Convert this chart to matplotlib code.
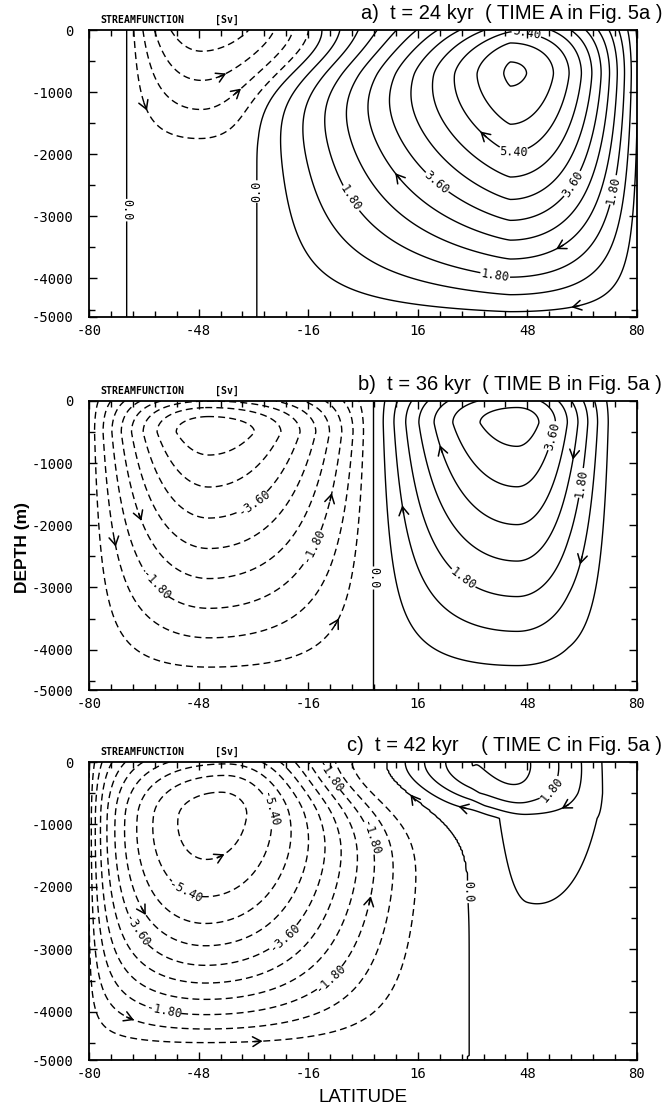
import numpy as np
import matplotlib.pyplot as plt

# --- overturning cells for each panel -------------------------------------
# amp [Sv]; latitude bounds as (surface, deep) pairs; lat shape
# (m_west, p_west, m_east, p_east); depth hump (top, core, bottom) in m with
# shape (m_top, p_top, m_bottom, p_bottom)
amp_a    = [6.7, -2.7, -0.15, 0.3]
west_a   = [(-12, -31), (-69, -69), (-69, -69), (-120, -120)]
core_a   = [(43, 43), (-47, -47), (-50, -50), (-85, -85)]
east_a   = [(82, 82), (-12, -31), (-12, -31), (-69, -69)]
lshape_a = [(1.2, 1.0, 2, 1.0), (2, 0.9, 2, 1.0), (2, 1, 2, 1), (2, 1, 2, 1)]
depth_a  = [(-820, 700, 4800), (-300, 0, 2100), (-6000, 2500, 11000), (-6000, 2500, 11000)]
dshape_a = [(2, 1, 1.4, 1), (2, 1, 1.0, 1), (2, 1, 2, 1), (2, 1, 2, 1)]

amp_b    = [-5.2, 4.5, 0.1]
west_b   = [(-81, -81), (3, 3), (60, 60)]
core_b   = [(-45, -45), (45, 45), (85, 85)]
east_b   = [(3, 3), (76, 76), (110, 110)]
lshape_b = [(2, 1.1, 2, 1.0), (2, 1.0, 2, 1.6), (2, 1, 2, 1)]
depth_b  = [(-400, 500, 4750), (-600, 350, 4800), (-6000, 2500, 11000)]
dshape_b = [(2, 1, 1.05, 1), (2, 1, 1.1, 1), (2, 1, 2, 1)]

amp_c    = [-6.3, 2.3, 0.95, 0.15]
west_c   = [(-80.5, -80.5), (7, 31), (31, 31), (7, 31)]
core_c   = [(-40, -46), (32, 40), (48, 48), (60, 60)]
east_c   = [(7, 31), (70, 70), (88, 88), (100, 100)]
lshape_c = [(2, 0.6, 2, 2.2), (1.2, 1, 1.1, 1), (2, 2, 2, 2), (2, 1, 2, 1)]
depth_c  = [(-830, 850, 4700), (-300, 0, 900), (-2000, 500, 4000), (-6000, 2500, 11000)]
dshape_c = [(2, 1, 1.8, 1), (2, 1, 2, 1), (2, 1, 1, 1), (2, 1, 2, 1)]

tilt_depth = 900.0   # e-folding depth of the shift of the latitude bounds

titles = ["a)  t = 24 kyr  ( TIME A in Fig. 5a )",
          "b)  t = 36 kyr  ( TIME B in Fig. 5a )",
          "c)  t = 42 kyr    ( TIME C in Fig. 5a )"]
bottoms = [-4620, -4650, -4770]

# flow arrows (lat, depth), snapped to the nearest drawn contour
arrows_a = [(-61.6, -1200), (-41.7, -630), (-36.8, -980), (37, -1570),
            (9.9, -2370), (57.5, -3500), (62.5, -4560)]
arrows_b = [(-73.6, -2290), (-65.7, -1870), (-8.8, -1550), (-10.2, -3480),
            (9.9, -1760), (24.8, -740), (59.9, -870), (63.4, -2560)]
arrows_c = [(-39.4, -1760), (-64.2, -2390), (0.6, -2190), (-68.6, -4210),
            (-30.6, -4500), (13, -690), (29.2, -740), (61.3, -900)]

# contour label spots
labels_a = [(-70, -2900), (-31, -2600), (47, -300), (44, -2050), (20.4, -2530),
            (64.2, -2580), (-3, -2690), (38.5, -3980), (73.6, -2580)]
labels_b = [(-34.5, -1430), (-59, -2880), (-18, -2230), (3.8, -2840),
            (56.6, -580), (64, -1320), (33.3, -2560)]
labels_c = [(-25.7, -740), (-53, -2200), (-24, -2730), (-69.5, -2840), (-13, -355),
            (-10, -3440), (-58, -3970), (8, -1110), (29.8, -2080), (58.4, -580)]

xtick_pos = [-80, -48, -16, 16, 48, 80]
ytick_lab = ["0", "-1000", "-2000", "-3000", "-4000", "-5000"]

MONO = "DejaVu Sans Mono"
SANS = "Liberation Sans"


def hump(x, a, c, b, m1, p1, m2, p2):
    x, a, c, b = np.broadcast_arrays(np.asarray(x, float), a, c, b)
    y = np.zeros(x.shape)
    k = (x > a) & (x <= c)
    u = (x[k] - a[k]) / (c[k] - a[k])
    y[k] = (1 - (1 - u) ** m1) ** p1
    k = (x > c) & (x < b)
    u = (b[k] - x[k]) / (b[k] - c[k])
    y[k] = (1 - (1 - u) ** m2) ** p2
    return y


def field(lat, dep, cells):
    # dep is positive downward
    amp, west, core, east, lsh, depth, dsh = cells
    w = np.exp(-(np.clip(dep, 0, None) / tilt_depth) ** 2)
    psi = np.zeros(np.shape(lat))
    for A, wb, cb, eb, ls, (dt, dc, db), ds in zip(amp, west, core, east, lsh, depth, dsh):
        a = wb[1] + (wb[0] - wb[1]) * w
        c = cb[1] + (cb[0] - cb[1]) * w
        b = eb[1] + (eb[0] - eb[1]) * w
        psi = psi + A * hump(lat, a, c, b, *ls) * hump(dep, dt, dc, db, *ds)
    return psi


def fmt(v):
    return "0.0" if abs(v) < 1e-6 else "%.2f" % v


fig = plt.figure(figsize=(6.68, 11.11), dpi=100)
W, H = 668.0, 1111.0
frames = [(30, 317), (401, 690), (762, 1060)]
panels = [((amp_a, west_a, core_a, east_a, lshape_a, depth_a, dshape_a), arrows_a, labels_a),
          ((amp_b, west_b, core_b, east_b, lshape_b, depth_b, dshape_b), arrows_b, labels_b),
          ((amp_c, west_c, core_c, east_c, lshape_c, depth_c, dshape_c), arrows_c, labels_c)]

levels = np.round(np.arange(-6.6, 7.0, 0.6), 2)
label_levels = [-5.4, -3.6, -1.8, 0.0, 1.8, 3.6, 5.4]

for k, (cells, arr, labs) in enumerate(panels):
    top, bot = frames[k]
    ax = fig.add_axes([89 / W, 1 - bot / H, 548 / W, (bot - top) / H])
    ybot = bottoms[k]
    ax.set_xlim(-80, 80)
    ax.set_ylim(ybot, 0)

    lat = np.linspace(-80, 80, 321)
    z = np.linspace(0, ybot, 260)
    LAT, Z = np.meshgrid(lat, z)
    psi = field(LAT, -Z, cells)

    use = [v for v in levels if psi.min() < v < psi.max()]
    lab_lv = [v for v in use if any(abs(v - l) < 1e-6 for l in label_levels)]
    other = [v for v in use if v not in lab_lv]

    sets = []
    for lv in (lab_lv, other):
        st = [(0, (5, 3)) if v < 0 else "solid" for v in lv]
        sets.append(ax.contour(lat, z, psi, levels=lv, colors="k",
                               linewidths=1.0, linestyles=st))

    txt = ax.clabel(sets[0], fmt=fmt, manual=labs, fontsize=8.5,
                    inline=True, inline_spacing=2)
    for t in txt:
        t.set_family(MONO)

    # arrowheads following the flow (higher streamfunction on the right)
    pts = []
    for cs in sets:
        for segs in cs.allsegs:
            for s in segs:
                if len(s) > 3:
                    pts.append(s)
    inv = ax.transData.inverted()
    for (la, de) in arr:
        hp = ax.transData.transform((la, de))
        best = None
        for s in pts:
            sp = ax.transData.transform(s)
            d = np.hypot(sp[:, 0] - hp[0], sp[:, 1] - hp[1])
            i = int(np.argmin(d))
            if best is None or d[i] < best[0]:
                best = (d[i], sp, i)
        _, sp, i = best
        i = min(max(i, 1), len(sp) - 2)
        p = sp[i]
        t = sp[i + 1] - sp[i - 1]
        t = t / np.hypot(*t)
        n = np.array([t[1], -t[0]])
        qr = inv.transform(p + 4 * n)
        ql = inv.transform(p - 4 * n)
        fr = field(np.array([qr[0]]), np.array([-qr[1]]), cells)[0]
        fl = field(np.array([ql[0]]), np.array([-ql[1]]), cells)[0]
        if fr < fl:
            t = -t
        tip = inv.transform(p + 4 * t)
        tail = inv.transform(p - 4 * t)
        ax.annotate("", xy=tip, xytext=tail,
                    arrowprops=dict(arrowstyle="->,head_length=0.6,head_width=0.35",
                                    lw=1.1, color="k", shrinkA=0, shrinkB=0,
                                    mutation_scale=10))

    ax.set_xticks(xtick_pos)
    ax.set_xticklabels([str(v) for v in xtick_pos])
    ax.set_xticks(np.arange(-80, 80.1, 6.4), minor=True)
    ax.set_yticks([0, -1000, -2000, -3000, -4000, ybot])
    ax.set_yticklabels(ytick_lab)
    ax.set_yticks(np.arange(-500, ybot, -500), minor=True)
    ax.tick_params(which="both", direction="in", top=True, right=True, width=1.0)
    ax.tick_params(which="major", length=6)
    ax.tick_params(which="minor", length=4)
    ax.tick_params(axis="y", pad=11)
    ax.tick_params(axis="x", pad=5)
    for lab in ax.get_xticklabels() + ax.get_yticklabels():
        lab.set_family(MONO)
        lab.set_fontsize(10)
    for sp_ in ax.spines.values():
        sp_.set_linewidth(1.3)

    hpx = bot - top
    ax.text(1.046, 1 + 7 / hpx, titles[k], transform=ax.transAxes, ha="right",
            va="bottom", fontsize=14.5, family=SANS)
    ax.text(0.02, 1 + 5 / hpx, "STREAMFUNCTION", transform=ax.transAxes,
            ha="left", va="bottom", fontsize=7.1, family=MONO, weight="bold")
    ax.text(0.23, 1 + 5 / hpx, "[Sv]", transform=ax.transAxes,
            ha="left", va="bottom", fontsize=7.1, family=MONO, weight="bold")

fig.text(22 / W, 1 - 548 / H, "DEPTH (m)", rotation=90, ha="center", va="center",
         fontsize=12.5, family=SANS, weight="bold")
fig.text(363 / W, 1 - 1098 / H, "LATITUDE", ha="center", va="center",
         fontsize=13.5, family=SANS)

fig.savefig("out.png", dpi=100)
